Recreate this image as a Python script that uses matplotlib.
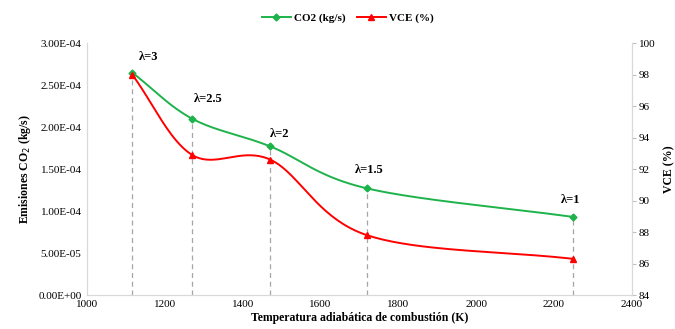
import matplotlib.pyplot as plt
import numpy as np

plt.rcParams['font.family'] = ['Liberation Serif', 'DejaVu Serif']

temps = [1116, 1270, 1471, 1720, 2250]
co2 = [2.65e-4, 2.10e-4, 1.77e-4, 1.27e-4, 9.3e-5]
vce = [98.0, 92.9, 92.6, 87.8, 86.3]
lambdas = ['λ=3', 'λ=2.5', 'λ=2', 'λ=1.5', 'λ=1']
# label offsets in points
label_off = [(5, 11), (1, 14), (0, 9), (-9, 13), (-9, 12)]


def smooth(x, y, n=40):
    # catmull-rom style smoothing like excel "smoothed line"
    x = np.asarray(x, float)
    y = np.asarray(y, float)
    px = np.concatenate([[2 * x[0] - x[1]], x, [2 * x[-1] - x[-2]]])
    py = np.concatenate([[2 * y[0] - y[1]], y, [2 * y[-1] - y[-2]]])
    xs, ys = [], []
    t = np.linspace(0, 1, n)
    for i in range(1, len(px) - 2):
        for p, out in ((px, xs), (py, ys)):
            p0, p1, p2, p3 = p[i - 1], p[i], p[i + 1], p[i + 2]
            out.append(0.5 * ((2 * p1) + (-p0 + p2) * t
                              + (2 * p0 - 5 * p1 + 4 * p2 - p3) * t ** 2
                              + (-p0 + 3 * p1 - 3 * p2 + p3) * t ** 3))
    return np.concatenate(xs), np.concatenate(ys)


fig = plt.figure(figsize=(6.75, 3.29), dpi=100)
ax = fig.add_axes([0.129, 0.103, 0.807, 0.766])
ax2 = ax.twinx()

green = '#1db34a'
red = '#ff0000'

sx, sy = smooth(temps, co2)
ax.plot(sx, sy, color=green, lw=1.4, zorder=3)
ax.plot(temps, co2, 'D', color=green, ms=3.5, zorder=4)
h1, = ax.plot([], [], '-D', color=green, ms=3.5, lw=1.4)

sx2, sy2 = smooth(temps, vce)
ax2.plot(sx2, sy2, color=red, lw=1.4, zorder=3)
ax2.plot(temps, vce, '^', color=red, ms=5, zorder=4)
h2, = ax.plot([], [], '-^', color=red, ms=5, lw=1.4)

for t, c, lab, off in zip(temps, co2, lambdas, label_off):
    ax.plot([t, t], [0, c], ls=(0, (4, 3)), color='#a6a6a6', lw=0.9, zorder=2)
    ax.annotate(lab, (t, c), xytext=off, textcoords='offset points',
                fontsize=9, fontweight='bold', ha='left', va='center')

ax.set_xlim(1000, 2400)
ax.set_ylim(0, 3e-4)
ax2.set_ylim(84, 100)
ax.set_xticks(np.arange(1000, 2401, 200))
ax.set_yticks(np.arange(0, 3.01e-4, 0.5e-4))
ax.set_yticklabels(['0.00E+00', '5.00E-05', '1.00E-04', '1.50E-04',
                    '2.00E-04', '2.50E-04', '3.00E-04'])
ax2.set_yticks(np.arange(84, 101, 2))

for a in (ax, ax2):
    a.spines['top'].set_visible(False)
    for s in ('left', 'right', 'bottom'):
        a.spines[s].set_color('#d9d9d9')
    a.tick_params(labelsize=8, colors='#000000', length=0)
ax2.tick_params(axis='y', length=3, color='#bfbfbf', pad=2)
ax.tick_params(axis='y', pad=4)

ax.set_xlabel('Temperatura adiabática de combustión (K)', fontsize=8.5,
              fontweight='bold', labelpad=2)
ax.set_ylabel('Emisiones CO$_2$ (kg/s)', fontsize=8.5, fontweight='bold')
ax2.set_ylabel('VCE (%)', fontsize=8.5, fontweight='bold', labelpad=6)

fig.legend([h1, h2], ['CO2 (kg/s)', 'VCE (%)'], loc='center',
           bbox_to_anchor=(0.515, 0.945), ncol=2, frameon=False,
           prop={'weight': 'bold', 'size': 8},
           handlelength=2.6, columnspacing=1.0, handletextpad=0.3)

fig.savefig('out.png', dpi=100)
